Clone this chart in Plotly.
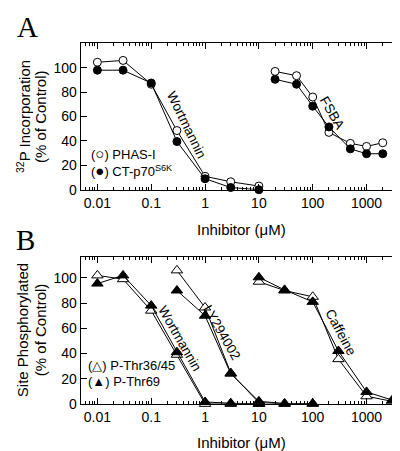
import plotly.graph_objects as go
import numpy as np

# ---------------- Data ----------------
# Panel A
wort_a_x = [0.01, 0.03, 0.1, 0.3, 1, 3, 10]
phas_wort = [104.5, 106, 86.5, 48.5, 11, 6.5, 3]
ct_wort = [98, 98, 87.5, 39.5, 9, 1.8, 0]

fsba_x = [20, 50, 100, 200, 500, 1000, 2000]
phas_fsba = [97, 93.5, 76, 47, 38, 35.5, 38.5]
ct_fsba = [90.5, 86.5, 68.5, 51.5, 33.5, 29.5, 29.5]

# Panel B
wort_b_x = [0.01, 0.03, 0.1, 0.3, 1, 3, 10]
thr3645_wort = [102, 99, 74, 39, 0, 0, 0]
thr69_wort = [95.5, 102, 78, 41, 1.5, 0.5, 0]

ly_x = [0.3, 1, 3, 10, 30, 100]
thr3645_ly = [106, 76.5, 24.5, 1, 0, 0]
thr69_ly = [90, 70, 24, 2, 0.3, 0.3]

caf_x = [10, 30, 100, 300, 1000, 3000]
thr3645_caf = [97, 90, 85, 35.5, 6, 2]
thr69_caf = [100.5, 90.5, 81, 42, 9.5, 3]

x_tickvals = [0.01, 0.1, 1, 10, 100, 1000]
x_ticktext = ["0.01", "0.1", "1", "10", "100", "1000"]
y_tickvals = [0, 20, 40, 60, 80, 100]

W, H = 400, 451
def px(x):
    return x / W
def py(y):
    return 1 - y / H

fig = go.Figure()

def add_line(x, y, xa, ya, symbol, filled):
    fig.add_trace(go.Scatter(
        x=x, y=y, xaxis=xa, yaxis=ya, mode="lines+markers",
        line=dict(color="black", width=1),
        marker=dict(symbol=symbol, size=8 if "circle" in symbol else 10,
                    color="black" if filled else "white",
                    line=dict(color="black", width=1)),
        showlegend=False, cliponaxis=False))

# Panel A: open first, filled on top
add_line(wort_a_x, phas_wort, "x", "y", "circle", False)
add_line(wort_a_x, ct_wort, "x", "y", "circle", True)
add_line(fsba_x, phas_fsba, "x", "y", "circle", False)
add_line(fsba_x, ct_fsba, "x", "y", "circle", True)

# Panel B
add_line(wort_b_x, thr3645_wort, "x2", "y2", "triangle-up", False)
add_line(wort_b_x, thr69_wort, "x2", "y2", "triangle-up", True)
add_line(ly_x, thr3645_ly, "x2", "y2", "triangle-up", False)
add_line(ly_x, thr69_ly, "x2", "y2", "triangle-up", True)
add_line(caf_x, thr3645_caf, "x2", "y2", "triangle-up", False)
add_line(caf_x, thr69_caf, "x2", "y2", "triangle-up", True)

minor_vals = [m * 10.0 ** d for d in range(-3, 4) for m in range(2, 10)]

font_main = "Liberation Sans, Arial, Helvetica, sans-serif"

def xaxis_style(domain_y_anchor):
    return dict(
        type="log", range=[-2.31, 3.69], domain=[px(72.7), px(395.7)],
        anchor=domain_y_anchor,
        tickvals=x_tickvals, ticktext=x_ticktext,
        ticks="inside", ticklen=6, tickwidth=1, tickcolor="black",
        minor=dict(tickvals=minor_vals, ticks="inside", ticklen=3,
                   tickwidth=1, tickcolor="black", showgrid=False),
        showline=True, linecolor="black", linewidth=1, mirror="ticks",
        showgrid=False, zeroline=False,
        tickfont=dict(size=14, color="black", family=font_main),
    )

def yaxis_style(domain, rng, anchor):
    return dict(
        range=rng, domain=domain, anchor=anchor,
        tickvals=y_tickvals, ticks="inside", ticklen=6, tickwidth=1,
        tickcolor="black", showline=True, linecolor="black", linewidth=1,
        mirror="ticks", showgrid=False, zeroline=False,
        tickfont=dict(size=14, color="black", family=font_main),
    )

fig.update_layout(
    width=W, height=H, margin=dict(l=0, r=0, t=0, b=0),
    plot_bgcolor="white", paper_bgcolor="white",
    font=dict(family=font_main, color="black", size=14),
    xaxis=xaxis_style("y"),
    yaxis=yaxis_style([py(185), py(36)], [0, 120], "x"),
    xaxis2=xaxis_style("y2"),
    yaxis2=yaxis_style([py(403), py(253)], [0, 117], "x2"),
)

ann = []
def text(x, y, t, size=14, angle=0, family=font_main, xanchor="center",
         yanchor="middle"):
    ann.append(dict(x=px(x), y=py(y), xref="paper", yref="paper", text=t,
                    showarrow=False, textangle=angle, xanchor=xanchor,
                    yanchor=yanchor,
                    font=dict(size=size, color="black", family=family)))

# Panel letters
serif = "Liberation Serif, Times New Roman, serif"
text(19, 1, "A", size=29, family=serif, yanchor="top")
text(17, 218, "B", size=29, family=serif, yanchor="top")

# Axis titles
text(233, 226, "Inhibitor (μM)", size=15)
text(233, 442, "Inhibitor (μM)", size=15)
text(15, 111, "<sup>32</sup>P Incorporation", size=15, angle=-90)
text(32, 111, "(% of Control)", size=15, angle=-90)
text(14, 328, "Site Phosphorylated", size=15, angle=-90)
text(32, 328, "(% of Control)", size=15, angle=-90)

# Legends
big = "<span style='font-size:15px'>%s</span>"
text(81, 148, "(" + big % "○" + ") PHAS-I", size=13, xanchor="left")
text(81, 165, "(" + big % "●" + ") CT-p70<sup>S6K</sup>", size=13, xanchor="left")
text(78, 364, "(△) P-Thr36/45", size=13, xanchor="left")
text(78, 380, "(▲) P-Thr69", size=13, xanchor="left")

# Curve labels
text(178, 119, "Wortmannin", size=13.5, angle=64)
text(324, 106, "FSBA", size=13.5, angle=60)
text(172, 336, "Wortmannin", size=13.5, angle=60)
text(214, 330, "LY294002", size=13.5, angle=60)
text(333, 330, "Caffeine", size=13.5, angle=62)

fig.update_layout(annotations=ann)
fig.write_html("out.html")
